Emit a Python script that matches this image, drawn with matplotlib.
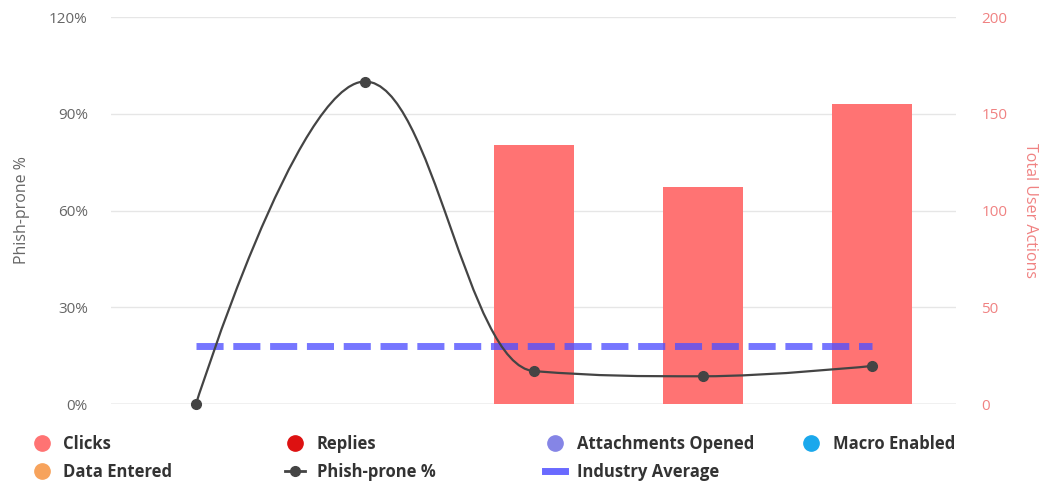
import numpy as np
import matplotlib
matplotlib.use("Agg")
import matplotlib.pyplot as plt
from matplotlib.path import Path
from matplotlib.patches import PathPatch
from matplotlib.lines import Line2D

plt.rcParams['font.family'] = ['Open Sans', 'DejaVu Sans']

# data
campaigns = ["1", "2", "3", "4", "5"]
clicks = [0, 0, 134, 112, 155]
replies = [0, 0, 0, 0, 0]
attachments_opened = [0, 0, 0, 0, 0]
macro_enabled = [0, 0, 0, 0, 0]
data_entered = [0, 0, 0, 0, 0]
phish_prone = [0, 100, 10.2, 8.6, 11.8]
industry_average = [18, 18, 18, 18, 18]

c_clicks = '#ff7373'
c_replies = '#dd1111'
c_attach = '#8585e6'
c_macro = '#1aa8ec'
c_data = '#f7a35c'
c_line = '#444444'
c_ind = '#5050ff'
c_right = '#f08282'


def spline_path(xs, ys, smoothing=1.5):
    # highcharts-like spline control points
    n = len(xs)
    lc = [None] * n
    rc = [None] * n
    for i in range(1, n - 1):
        x, y = xs[i], ys[i]
        lx, ly = xs[i - 1], ys[i - 1]
        nx, ny = xs[i + 1], ys[i + 1]
        d = smoothing + 1
        lcx = (smoothing * x + lx) / d
        lcy = (smoothing * y + ly) / d
        rcx = (smoothing * x + nx) / d
        rcy = (smoothing * y + ny) / d
        if rcx != lcx:
            corr = (rcy - lcy) * (rcx - x) / (rcx - lcx) + y - rcy
            lcy += corr
            rcy += corr
        if lcy > ly and lcy > y:
            lcy = max(ly, y)
            rcy = 2 * y - lcy
        elif lcy < ly and lcy < y:
            lcy = min(ly, y)
            rcy = 2 * y - lcy
        if rcy > ny and rcy > y:
            rcy = max(ny, y)
            lcy = 2 * y - rcy
        elif rcy < ny and rcy < y:
            rcy = min(ny, y)
            lcy = 2 * y - rcy
        lc[i] = (lcx, lcy)
        rc[i] = (rcx, rcy)
    verts = [(xs[0], ys[0])]
    codes = [Path.MOVETO]
    for i in range(1, n):
        p0 = rc[i - 1] or (xs[i - 1], ys[i - 1])
        p1 = lc[i] or (xs[i], ys[i])
        verts += [p0, p1, (xs[i], ys[i])]
        codes += [Path.CURVE4] * 3
    return Path(verts, codes)


fig = plt.figure(figsize=(10.43, 4.82), dpi=100)
ax = fig.add_axes([0.1069, 0.1618, 0.8101, 0.8029])
ax2 = ax.twinx()

x = np.arange(len(campaigns))

# bars on right axis (stacked)
bottom = np.zeros(len(x))
for vals, col in [(clicks, c_clicks), (replies, c_replies), (attachments_opened, c_attach),
                  (macro_enabled, c_macro), (data_entered, c_data)]:
    ax2.bar(x, vals, width=0.47, bottom=bottom, color=col, zorder=2)
    bottom += np.array(vals)

ax2.set_ylim(0, 200)
ax2.set_yticks([0, 50, 100, 150, 200])
ax2.tick_params(axis='y', colors=c_right, labelsize=11, length=0, pad=18)
ax2.set_ylabel('Total User Actions', color=c_right, fontsize=11.5, rotation=270, labelpad=22)
ax2.grid(axis='y', color='#e6e6e6', linewidth=1, zorder=0)
ax2.set_axisbelow(True)

# percent axis on top
ax.set_zorder(ax2.get_zorder() + 1)
ax.patch.set_visible(False)
ax.set_xlim(-0.5, len(x) - 0.5)
ax.set_ylim(0, 120)
ax.set_yticks([0, 30, 60, 90, 120])
ax.set_yticklabels(['0%', '30%', '60%', '90%', '120%'])
ax.tick_params(axis='y', colors='#666666', labelsize=11, length=0, pad=17)
ax.set_xticks([])
ax.set_ylabel('Phish-prone %', color='#666666', fontsize=11.5, labelpad=14)
for a in (ax, ax2):
    for s in a.spines.values():
        s.set_visible(False)
ax2.axhline(0, color='#cccccc', linewidth=1, zorder=1)

ax.plot(x, industry_average, color=c_ind, alpha=0.78, linewidth=5,
        dashes=(3.9, 1.4), solid_capstyle='butt', dash_capstyle='butt', zorder=3)

ax.add_patch(PathPatch(spline_path(list(x), phish_prone), facecolor='none',
                       edgecolor=c_line, linewidth=1.6, zorder=4))
ax.plot(x, phish_prone, linestyle='none', marker='o', markersize=7,
        color=c_line, zorder=5, clip_on=False)

# legend, one column per group
cols = [
    [('Clicks', 'dot', c_clicks), ('Data Entered', 'dot', c_data)],
    [('Replies', 'dot', c_replies), ('Phish-prone %', 'line', c_line)],
    [('Attachments Opened', 'dot', c_attach), ('Industry Average', 'dash', c_ind)],
    [('Macro Enabled', 'dot', c_macro)],
]
col_x = [0.024, 0.267, 0.516, 0.762]
for cx, items in zip(col_x, cols):
    handles = []
    labels = []
    for lab, kind, col in items:
        if kind == 'dot':
            h = Line2D([], [], linestyle='none', marker='o', markersize=11, color=col)
        elif kind == 'line':
            h = Line2D([], [], color=col, linewidth=2, marker='o', markersize=7)
        else:
            h = Line2D([], [], color=col, alpha=0.85, linewidth=5)
        handles.append(h)
        labels.append(lab)
    leg = fig.legend(handles, labels, loc='upper left', bbox_to_anchor=(cx, 0.112),
                     frameon=False, handlelength=1.2, handletextpad=0.7,
                     labelspacing=0.6, borderaxespad=0,
                     prop={'size': 12, 'weight': 'bold'})
    for t in leg.get_texts():
        t.set_color('#333333')

fig.savefig('out.png', dpi=100)
